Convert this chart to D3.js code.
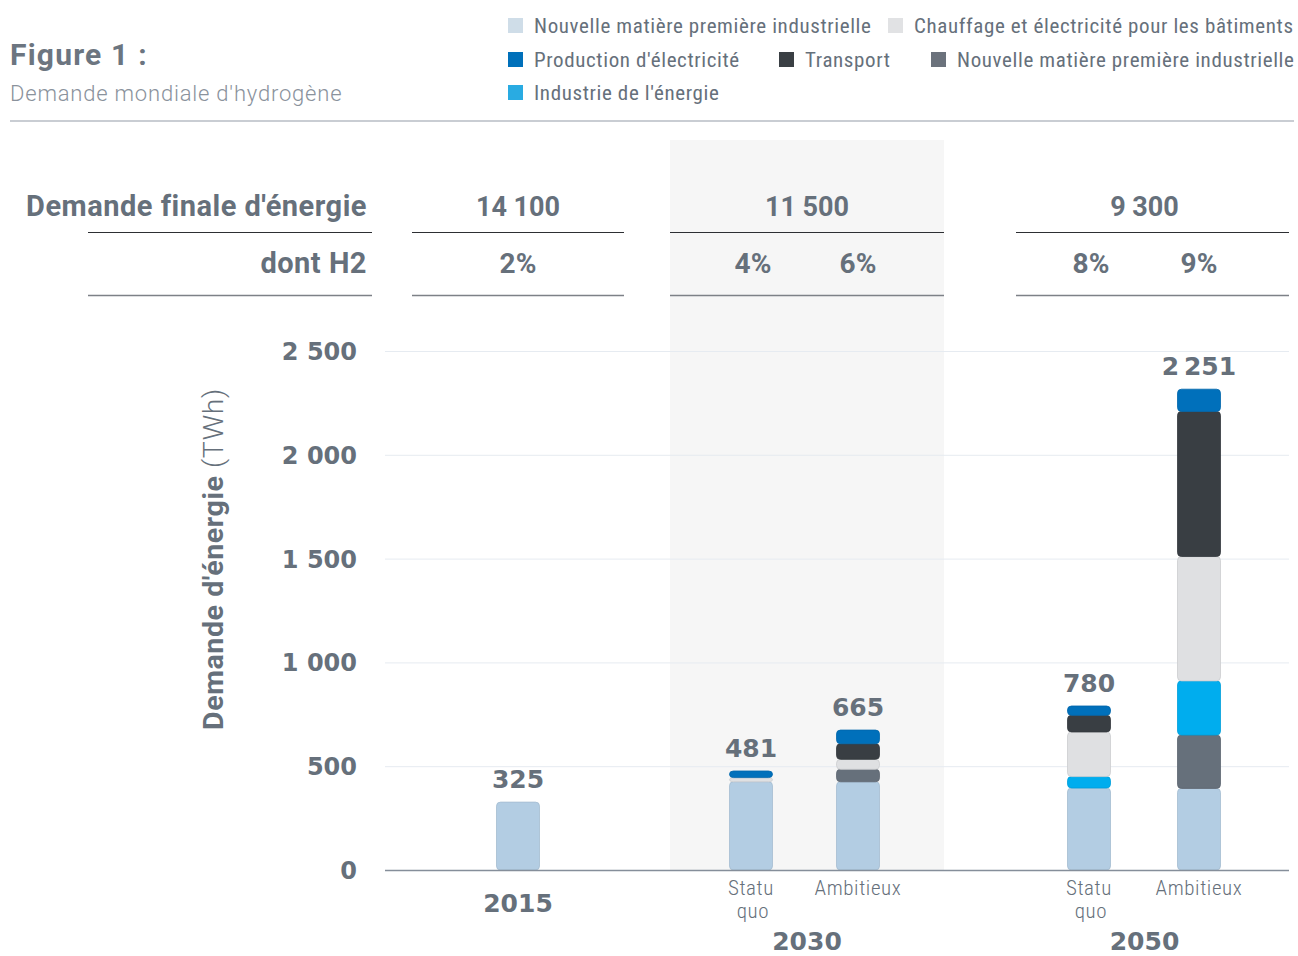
<!DOCTYPE html>
<html><head><meta charset="utf-8">
<script src="https://cdn.jsdelivr.net/npm/d3@7"></script>
<style>
html,body{margin:0;padding:0;background:#fff;}
svg{display:block;font-family:Roboto,"Liberation Sans",sans-serif;}
</style></head>
<body>
<svg id="c" width="1298" height="956"></svg>
<script>
// ---- data ----
const groups = ["2015", "2030", "2050"];
const barGroup = ["2015", "2030", "2030", "2050", "2050"];
const barScenario = ["", "Statu quo", "Ambitieux", "Statu quo", "Ambitieux"];
const nouvelleLight = [327, 425, 425, 395, 393];
const nouvelleDark = [0, 0, 60, 0, 257];
const industrieEnergie = [0, 0, 0, 55, 261];
const chauffage = [0, 20, 48, 215, 599];
const transport = [0, 0, 75, 80, 699];
const production = [0, 32, 66, 45, 107];
const totalLabels = ["325", "481", "665", "780", "2 251"];
const finalDemand = ["14 100", "11 500", "9 300"];
const h2Share = [["2%"], ["4%", "6%"], ["8%", "9%"]];
const yTicks = [0, 500, 1000, 1500, 2000, 2500];

const seriesKeys = ["nouvelleLight", "nouvelleDark", "industrieEnergie", "chauffage", "transport", "production"];
const seriesData = {nouvelleLight, nouvelleDark, industrieEnergie, chauffage, transport, production};
const colors = {
  nouvelleLight: "#b3cde3", nouvelleDark: "#66707b", industrieEnergie: "#00adee",
  chauffage: "#dfe0e2", transport: "#393e43", production: "#0070bb"
};
const legendItems = [
  {label: "Nouvelle matière première industrielle", color: "#cfdde8"},
  {label: "Chauffage et électricité pour les bâtiments", color: "#e1e2e4"},
  {label: "Production d'électricité", color: "#0070ba"},
  {label: "Transport", color: "#3a3f44"},
  {label: "Nouvelle matière première industrielle", color: "#6b727c"},
  {label: "Industrie de l'énergie", color: "#29abe2"}
];

// ---- layout ----
const svg = d3.select("#c");
const TXT = "#66707b";
const COND = "'Roboto Condensed','Liberation Sans Narrow','DejaVu Sans Condensed',Roboto,sans-serif";
const WIDE = "'DejaVu Sans',Roboto,sans-serif";
const plotL = 385, plotR = 1289, y0px = 870, y1px = 351;
const colExt = {"2015": [412, 624], "2030": [670, 944], "2050": [1016, 1289]};
const colInset = {"2030": [81, 86], "2050": [73, 90]};

const y = d3.scaleLinear().domain([0, 2500]).range([y0px, y1px]);
const colCenter = g => (colExt[g][0] + colExt[g][1]) / 2;
const sub = {};
["2030", "2050"].forEach(g => {
  sub[g] = d3.scalePoint().domain(["Statu quo", "Ambitieux"])
    .range([colExt[g][0] + colInset[g][0], colExt[g][1] - colInset[g][1]]);
});
const barX = i => barScenario[i] ? sub[barGroup[i]](barScenario[i]) : colCenter(barGroup[i]);
const barW = 43;

// shaded 2030 background
svg.append("rect").attr("x", colExt["2030"][0]).attr("y", 140)
  .attr("width", colExt["2030"][1] - colExt["2030"][0]).attr("height", y0px - 140)
  .attr("fill", "#f6f6f6");

// title
svg.append("text").attr("x", 10).attr("y", 65).attr("fill", "#6c7580")
  .attr("font-size", 30).attr("font-weight", 700).attr("letter-spacing", 1.2).text("Figure 1 :");
svg.append("text").attr("x", 10).attr("y", 101).attr("fill", "#8a929c")
  .attr("font-size", 22).attr("font-weight", 300).attr("letter-spacing", 0.8).text("Demande mondiale d'hydrogène");
svg.append("line").attr("x1", 10).attr("x2", 1294).attr("y1", 121).attr("y2", 121)
  .attr("stroke", "#939ba7").attr("stroke-width", 1.2);

// legend
const legPos = [[508, 26], [888, 26], [508, 60], [779, 60], [931, 60], [508, 93]];
const leg = svg.append("g").selectAll("g").data(legendItems).join("g")
  .attr("transform", (d, i) => `translate(${legPos[i][0]},${legPos[i][1]})`);
leg.append("rect").attr("x", 0).attr("y", -8).attr("width", 15).attr("height", 15).attr("fill", d => d.color);
leg.append("text").attr("x", 26).attr("y", 7).attr("font-size", 21).attr("letter-spacing", 0.62).attr("fill", TXT)
  .attr("font-family", COND).text(d => d.label);

// table header
svg.append("text").attr("x", 367).attr("y", 216).attr("text-anchor", "end")
  .attr("font-size", 29).attr("font-weight", 700).attr("letter-spacing", 0.5).attr("fill", TXT)
  .text("Demande finale d'énergie");
svg.append("text").attr("x", 367).attr("y", 273).attr("text-anchor", "end")
  .attr("font-size", 29).attr("font-weight", 700).attr("letter-spacing", 0.5).attr("fill", TXT)
  .text("dont H2");
const lineSpans = [[88, 372]].concat(groups.map(g => colExt[g]));
lineSpans.forEach(s => {
  svg.append("line").attr("x1", s[0]).attr("x2", s[1]).attr("y1", 232.5).attr("y2", 232.5)
    .attr("stroke", "#2d2f33").attr("stroke-width", 1);
  svg.append("line").attr("x1", s[0]).attr("x2", s[1]).attr("y1", 295.5).attr("y2", 295.5)
    .attr("stroke", "#7d8187").attr("stroke-width", 1.3);
});
groups.forEach((g, gi) => {
  svg.append("text").attr("x", colCenter(g) - (g === "2050" ? 8 : 0)).attr("y", 216).attr("text-anchor", "middle")
    .attr("font-size", 27).attr("font-weight", 700).attr("fill", TXT).text(finalDemand[gi]);
});
groups.forEach((g, gi) => {
  h2Share[gi].forEach((p, k) => {
    const idx = barGroup.indexOf(g) + k;
    svg.append("text").attr("x", barX(idx) + (gi > 0 && k === 0 ? 2 : 0)).attr("y", 273).attr("text-anchor", "middle")
      .attr("font-size", 28).attr("font-weight", 700).attr("fill", TXT).text(p);
  });
});

// gridlines & y axis
const yAxis = d3.axisLeft(y).tickValues(yTicks).tickSize(0).tickPadding(0)
  .tickFormat(d => d3.format(",")(d).replace(/,/g, " "));
const ya = svg.append("g").attr("transform", `translate(357,0)`).call(yAxis);
ya.select(".domain").remove();
ya.selectAll("text").attr("font-size", 24).attr("font-weight", 700).attr("fill", TXT)
  .attr("font-family", WIDE).attr("dy", "0.35em");
svg.append("g").selectAll("line").data(yTicks.filter(d => d > 0)).join("line")
  .attr("x1", plotL).attr("x2", plotR).attr("y1", d => y(d) + 0.5).attr("y2", d => y(d) + 0.5)
  .attr("stroke", "#e6ebf1").attr("stroke-width", 1);

// y label
const yl = svg.append("text").attr("transform", `translate(223,559) rotate(-90)`)
  .attr("text-anchor", "middle").attr("font-size", 28.5).attr("letter-spacing", 0.6).attr("fill", TXT);
yl.append("tspan").attr("font-weight", 700).text("Demande d'énergie");
yl.append("tspan").attr("font-weight", 300).text(" (TWh)");

// stacked bars
const table = barGroup.map((g, i) => {
  const o = {i};
  seriesKeys.forEach(k => o[k] = seriesData[k][i]);
  return o;
});
const stack = d3.stack().keys(seriesKeys)(table);
const barsG = svg.append("g");
stack.forEach(layer => {
  barsG.append("g").selectAll("rect").data(layer.filter(d => d[1] - d[0] > 0)).join("rect")
    .attr("x", d => barX(d.data.i) - barW / 2)
    .attr("y", d => y(d[1]))
    .attr("width", barW)
    .attr("height", d => y(d[0]) - y(d[1]))
    .attr("rx", 4)
    .attr("fill", colors[layer.key])
    .attr("stroke", d3.color(colors[layer.key]).darker(0.25))
    .attr("stroke-width", 0.8);
});

// baseline
svg.append("line").attr("x1", plotL).attr("x2", plotR).attr("y1", y0px + 0.5).attr("y2", y0px + 0.5)
  .attr("stroke", "#858e9a").attr("stroke-width", 1.3);

// total labels
const totals = table.map((d, i) => d3.sum(seriesKeys, k => d[k]));
svg.append("g").selectAll("text").data(totalLabels).join("text")
  .attr("x", (d, i) => barX(i)).attr("y", (d, i) => y(totals[i]) - 14)
  .attr("text-anchor", "middle").attr("font-size", 25).attr("font-weight", 700)
  .attr("font-family", WIDE).attr("fill", TXT).attr("word-spacing", -4).text(d => d);

// bottom labels
const subLab = (x, yy, t) => svg.append("text").attr("x", x).attr("y", yy).attr("text-anchor", "middle")
  .attr("font-size", 21).attr("font-weight", 300).attr("letter-spacing", 0.6).attr("fill", TXT)
  .attr("font-family", COND).text(t);
barScenario.forEach((s, i) => {
  if (!s) return;
  if (s === "Statu quo") {
    subLab(barX(i), 895, "Statu");
    subLab(barX(i) + 2, 918, "quo");
  } else {
    subLab(barX(i), 895, s);
  }
});
groups.forEach(g => {
  svg.append("text").attr("x", colCenter(g) - (g === "2050" ? 8 : 0)).attr("y", g === "2015" ? 912 : 950)
    .attr("text-anchor", "middle").attr("font-size", 25).attr("font-weight", 700)
    .attr("font-family", WIDE).attr("fill", TXT).text(g);
});
</script>
</body></html>
